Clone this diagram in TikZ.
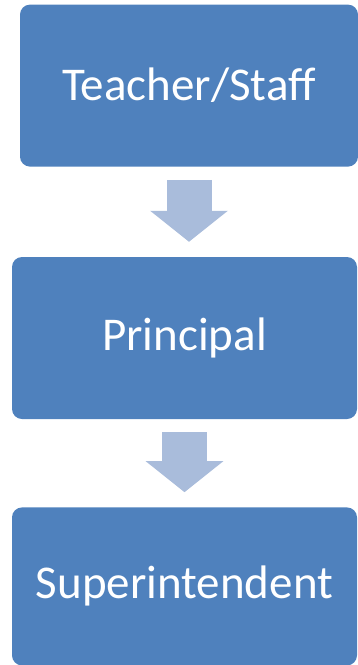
\documentclass[tikz,border=0pt]{standalone}
\usepackage{fontspec}
\setmainfont{Carlito}
\usetikzlibrary{positioning,arrows.meta}
\definecolor{boxblue}{HTML}{4F81BD}
\definecolor{arrowblue}{HTML}{A9BCDB}

\begin{document}
\begin{tikzpicture}[%
			x=1pt, y=1pt,
			font=\fontsize{47}{56}\selectfont,
			stage/.style={%
				rectangle,
				rounded corners=10pt,
				fill=boxblue,
				text=white,
				minimum width=345pt,
				minimum height=162pt,
				inner sep=0pt
			},
			flow/.style={%
				draw=arrowblue,
				line width=45pt,
				-{Triangle[width=76pt,length=31pt]},
				shorten <=13pt,
				shorten >=15pt
			}
			]
			\useasboundingbox (0,0) rectangle (358,-665);
			\node[stage] (principal) at (184.5,-338) {Principal};
			\node[stage, minimum width=338pt] (teacher) [above=90pt of principal, xshift=4.5pt] {Teacher/Staff};
			\node[stage, minimum height=158pt] (super) [below=88pt of principal] {Superintendent};

			\draw[flow] (teacher.south) -- (teacher.south |- principal.north);
			\draw[flow] (principal.south) -- (principal.south |- super.north);
\end{tikzpicture}
\end{document}
